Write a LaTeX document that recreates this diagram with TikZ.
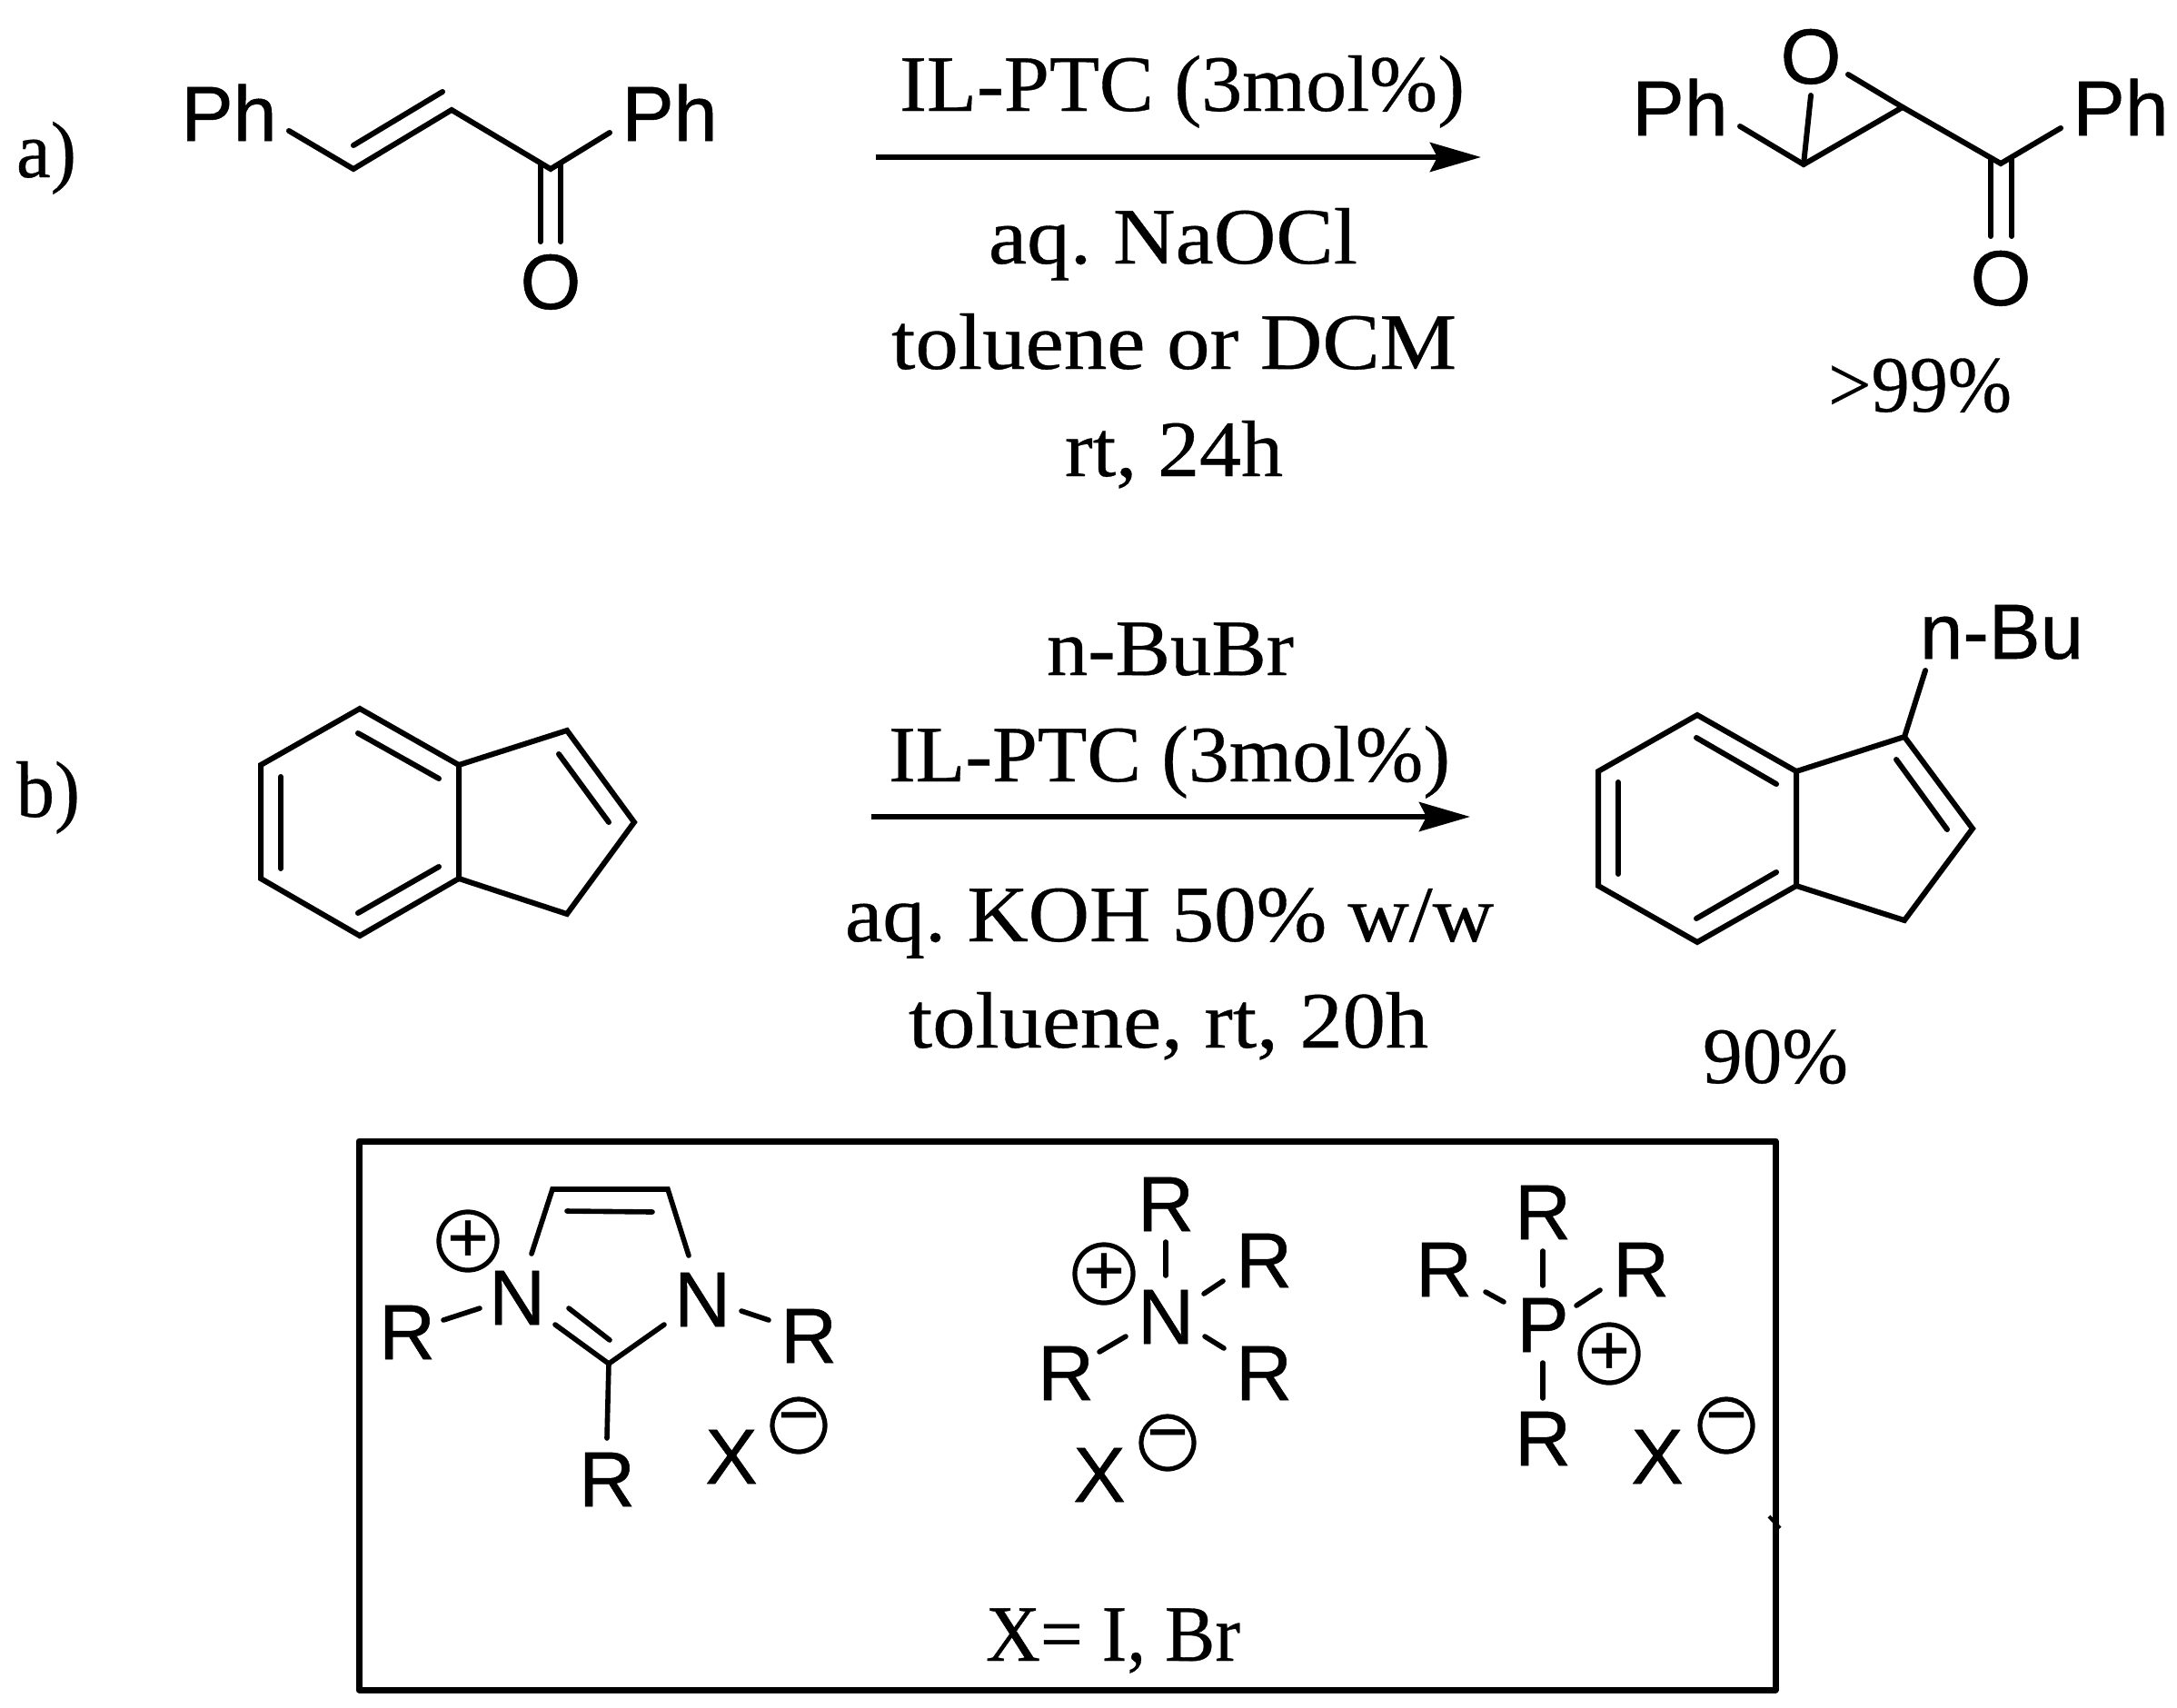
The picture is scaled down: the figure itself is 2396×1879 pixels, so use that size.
\documentclass[tikz,border=0pt]{standalone}
\usepackage{fontspec}
\usepackage{graphicx}
\setmainfont{Liberation Serif}[FakeBold=0.4]
\setsansfont{Liberation Sans}[FakeBold=0.6]
\frenchspacing
\usetikzlibrary{arrows.meta}
\newcommand{\fitw}[2]{\resizebox{#1pt}{\height}{#2}}
\tikzset{
  bond/.style={line width=3pt,line cap=round,line join=miter,black},
  thinbond/.style={line width=2.8pt,line cap=round,black},
  rxn/.style={line width=3pt,-{Stealth[length=28pt,width=16pt,inset=4pt]},black},
  frame/.style={line width=3.5pt,line join=round,black},
  lab/.style={anchor=base,inner sep=0pt,font=\fontsize{43pt}{48pt}\selectfont\sffamily},
  txt/.style={anchor=base,inner sep=0pt,font=\fontsize{44pt}{50pt}\selectfont\rmfamily},
  chg/.style={circle,draw,line width=2.6pt,inner sep=0pt,minimum size=29pt,font=\fontsize{39pt}{39pt}\selectfont\sffamily}
}
\begin{document}
\begin{tikzpicture}[x=0.5pt,y=-0.5pt]
\useasboundingbox (0,0) rectangle (2396,1879);
% ---------- labels a, b
\node[txt] (la) at (51,195) {\fitw{33}{a)}};
\node[txt] (lb) at (53,899) {\fitw{35}{b)}};
% ---------- chalcone
\node[lab] (ph1) at (252,155) {Ph};
\node[lab] (ph2) at (737,155) {Ph};
\node[lab] (o1) at (606,340) {O};
\coordinate (c1) at (318,144);
\coordinate (c2) at (389,186);
\coordinate (c3) at (497,121);
\coordinate (c4) at (606,186);
\coordinate (c5) at (671,146);
\coordinate (c2i) at (389,160);
\coordinate (c3i) at (487,101);
\coordinate (c6a) at (595,182);
\coordinate (c6b) at (595,266);
\coordinate (c7a) at (617,182);
\coordinate (c7b) at (617,266);
\draw[bond] (c1) -- (c2) -- (c3) -- (c4) -- (c5);
\draw[bond] (c2i) -- (c3i);
\draw[bond] (c6a) -- (c6b);
\draw[bond] (c7a) -- (c7b);
% ---------- reaction a
\coordinate (ra1) at (964,173);
\coordinate (ra2) at (1630,173);
\draw[rxn] (ra1) -- (ra2);
\node[txt] (ta1) at (1301,122) {\fitw{311}{IL-PTC (3mol\%)}};
\node[txt] (ta2) at (1291,290) {\fitw{203}{aq. NaOCl}};
\node[txt] (ta3) at (1292,406) {\fitw{311}{toluene or DCM}};
\node[txt] (ta4) at (1292,524) {\fitw{120}{rt, 24h}};
% ---------- epoxide
\node[lab] (ph3) at (1849,149) {Ph};
\node[lab] (ph4) at (2334,149) {Ph};
\node[lab] (o2) at (1993,92) {O};
\node[lab] (o3) at (2202,336) {O};
\coordinate (e1) at (1915,139);
\coordinate (e2) at (1985,181);
\coordinate (e3) at (2094,118);
\coordinate (e4) at (2202,180);
\coordinate (e5) at (2268,141);
\coordinate (e6) at (1993,105);
\coordinate (e7) at (2034,82);
\coordinate (e8a) at (2191,175);
\coordinate (e8b) at (2191,260);
\coordinate (e9a) at (2214,175);
\coordinate (e9b) at (2214,260);
\draw[bond] (e1) -- (e2) -- (e3);
\draw[bond] (e7) -- (e3) -- (e4) -- (e5);
\draw[bond] (e6) -- (e2);
\draw[bond] (e8a) -- (e8b);
\draw[bond] (e9a) -- (e9b);
\node[txt] (y1) at (2113,453) {\fitw{101}{>99\%}};
% ---------- indene
\coordinate (i1) at (396,780);
\coordinate (i2) at (505,842);
\coordinate (i3) at (505,967);
\coordinate (i4) at (396,1030);
\coordinate (i5) at (287,967);
\coordinate (i6) at (287,842);
\coordinate (i7) at (624,804);
\coordinate (i8) at (698,905);
\coordinate (i9) at (624,1006);
\draw[bond] (i1) -- (i2) -- (i3) -- (i4) -- (i5) -- (i6) -- cycle;
\draw[bond] (i2) -- (i7) -- (i8) -- (i9) -- (i3);
\coordinate (ia1) at (394,807); \coordinate (ia2) at (483,857);
\coordinate (ib1) at (309,855); \coordinate (ib2) at (309,956);
\coordinate (ic1) at (394,1005); \coordinate (ic2) at (483,954);
\coordinate (id1) at (615,830); \coordinate (id2) at (670,905);
\draw[bond] (ia1) -- (ia2);
\draw[bond] (ib1) -- (ib2);
\draw[bond] (ic1) -- (ic2);
\draw[bond] (id1) -- (id2);
% ---------- reaction b
\coordinate (rb1) at (959,899);
\coordinate (rb2) at (1618,899);
\draw[rxn] (rb1) -- (rb2);
\node[txt] (tb1) at (1288,743) {\fitw{136}{n-BuBr}};
\node[txt] (tb2) at (1287,860) {\fitw{309}{IL-PTC (3mol\%)}};
\node[txt] (tb3) at (1287,1036) {\fitw{357}{aq. KOH 50\% w/w}};
\node[txt] (tb4) at (1286,1153) {\fitw{286}{toluene, rt, 20h}};
% ---------- n-Bu indene
\coordinate (j1) at (1868,787);
\coordinate (j2) at (1977,849);
\coordinate (j3) at (1977,975);
\coordinate (j4) at (1868,1037);
\coordinate (j5) at (1759,975);
\coordinate (j6) at (1759,849);
\coordinate (j7) at (2096,811);
\coordinate (j8) at (2171,912);
\coordinate (j9) at (2096,1013);
\coordinate (j10) at (2119,738);
\draw[bond] (j1) -- (j2) -- (j3) -- (j4) -- (j5) -- (j6) -- cycle;
\draw[bond] (j2) -- (j7) -- (j8) -- (j9) -- (j3);
\draw[bond] (j7) -- (j10);
\coordinate (ja1) at (1867,812); \coordinate (ja2) at (1955,863);
\coordinate (jb1) at (1781,861); \coordinate (jb2) at (1781,962);
\coordinate (jc1) at (1867,1011); \coordinate (jc2) at (1955,960);
\coordinate (jd1) at (2087,836); \coordinate (jd2) at (2143,913);
\draw[bond] (ja1) -- (ja2);
\draw[bond] (jb1) -- (jb2);
\draw[bond] (jc1) -- (jc2);
\draw[bond] (jd1) -- (jd2);
\node[lab] (nbu) at (2203,725) {\fitw{90}{n-Bu}};
\node[txt] (y2) at (1954,1192) {\fitw{80}{90\%}};
% ---------- frame
\coordinate (f1) at (395,1256);
\coordinate (f2) at (1954,1860);
\draw[frame] (f1) rectangle (f2);
\coordinate (k1) at (1947,1669);
\coordinate (k2) at (1959,1682);
\draw[line width=2pt] (k1) -- (k2);
% ---------- imidazolium
\node[lab] (r1) at (448,1496) {R};
\node[lab] (n1) at (569,1458) {N};
\node[lab] (n2) at (773,1460) {N};
\node[lab] (r2) at (890,1500) {R};
\node[lab] (r3) at (668,1658) {R};
\node[lab] (x1) at (805,1633) {X};
\node[chg] (p1) at (515,1366) {+};
\node[chg] (m1) at (879,1569) {−};
\coordinate (a1) at (488,1453); \coordinate (a2) at (528,1440);
\coordinate (a3) at (585,1380); \coordinate (a4) at (608,1309);
\coordinate (a5) at (735,1309); \coordinate (a6) at (758,1382);
\coordinate (a7) at (624,1333); \coordinate (a8) at (718,1334);
\coordinate (a9) at (816,1443); \coordinate (a10) at (846,1453);
\coordinate (a11) at (670,1501); \coordinate (a12) at (611,1458);
\coordinate (a13) at (626,1440); \coordinate (a14) at (671,1475);
\coordinate (a15) at (731,1458); \coordinate (a16) at (668,1583);
\draw[thinbond] (a1) -- (a2);
\draw[thinbond] (a3) -- (a4) -- (a5) -- (a6);
\draw[thinbond] (a7) -- (a8);
\draw[thinbond] (a9) -- (a10);
\draw[thinbond] (a12) -- (a11) -- (a15);
\draw[thinbond] (a13) -- (a14);
\draw[thinbond] (a11) -- (a16);
% ---------- ammonium
\node[lab] (n3) at (1283,1479) {N};
\node[lab] (r4) at (1283,1355) {R};
\node[lab] (r5) at (1391,1417) {R};
\node[lab] (r6) at (1391,1541) {R};
\node[lab] (r7) at (1173,1541) {R};
\node[lab] (x2) at (1210,1653) {X};
\node[chg] (p2) at (1215,1402) {+};
\node[chg] (m2) at (1285,1588) {−};
\coordinate (b1) at (1283,1367); \coordinate (b2) at (1283,1404);
\coordinate (b3) at (1325,1424); \coordinate (b4) at (1346,1410);
\coordinate (b5) at (1326,1471); \coordinate (b6) at (1347,1484);
\coordinate (b7) at (1210,1488); \coordinate (b8) at (1239,1471);
\draw[thinbond] (b1) -- (b2);
\draw[thinbond] (b3) -- (b4);
\draw[thinbond] (b5) -- (b6);
\draw[thinbond] (b7) -- (b8);
% ---------- phosphonium
\node[lab] (p3) at (1698,1488) {P};
\node[lab] (r8) at (1698,1364) {R};
\node[lab] (r9) at (1589,1427) {R};
\node[lab] (r10) at (1806,1427) {R};
\node[lab] (r11) at (1698,1613) {R};
\node[lab] (x3) at (1824,1633) {X};
\node[chg] (p4) at (1771,1490) {+};
\node[chg] (m3) at (1900,1569) {−};
\coordinate (d1) at (1698,1377); \coordinate (d2) at (1698,1415);
\coordinate (d3) at (1698,1500); \coordinate (d4) at (1698,1539);
\coordinate (d5) at (1635,1422); \coordinate (d6) at (1655,1433);
\coordinate (d7) at (1735,1437); \coordinate (d8) at (1761,1420);
\draw[thinbond] (d1) -- (d2);
\draw[thinbond] (d3) -- (d4);
\draw[thinbond] (d5) -- (d6);
\draw[thinbond] (d7) -- (d8);
\node[txt] (xeq) at (1225,1828) {\fitw{140}{X= I, Br}};
\end{tikzpicture}
\end{document}
